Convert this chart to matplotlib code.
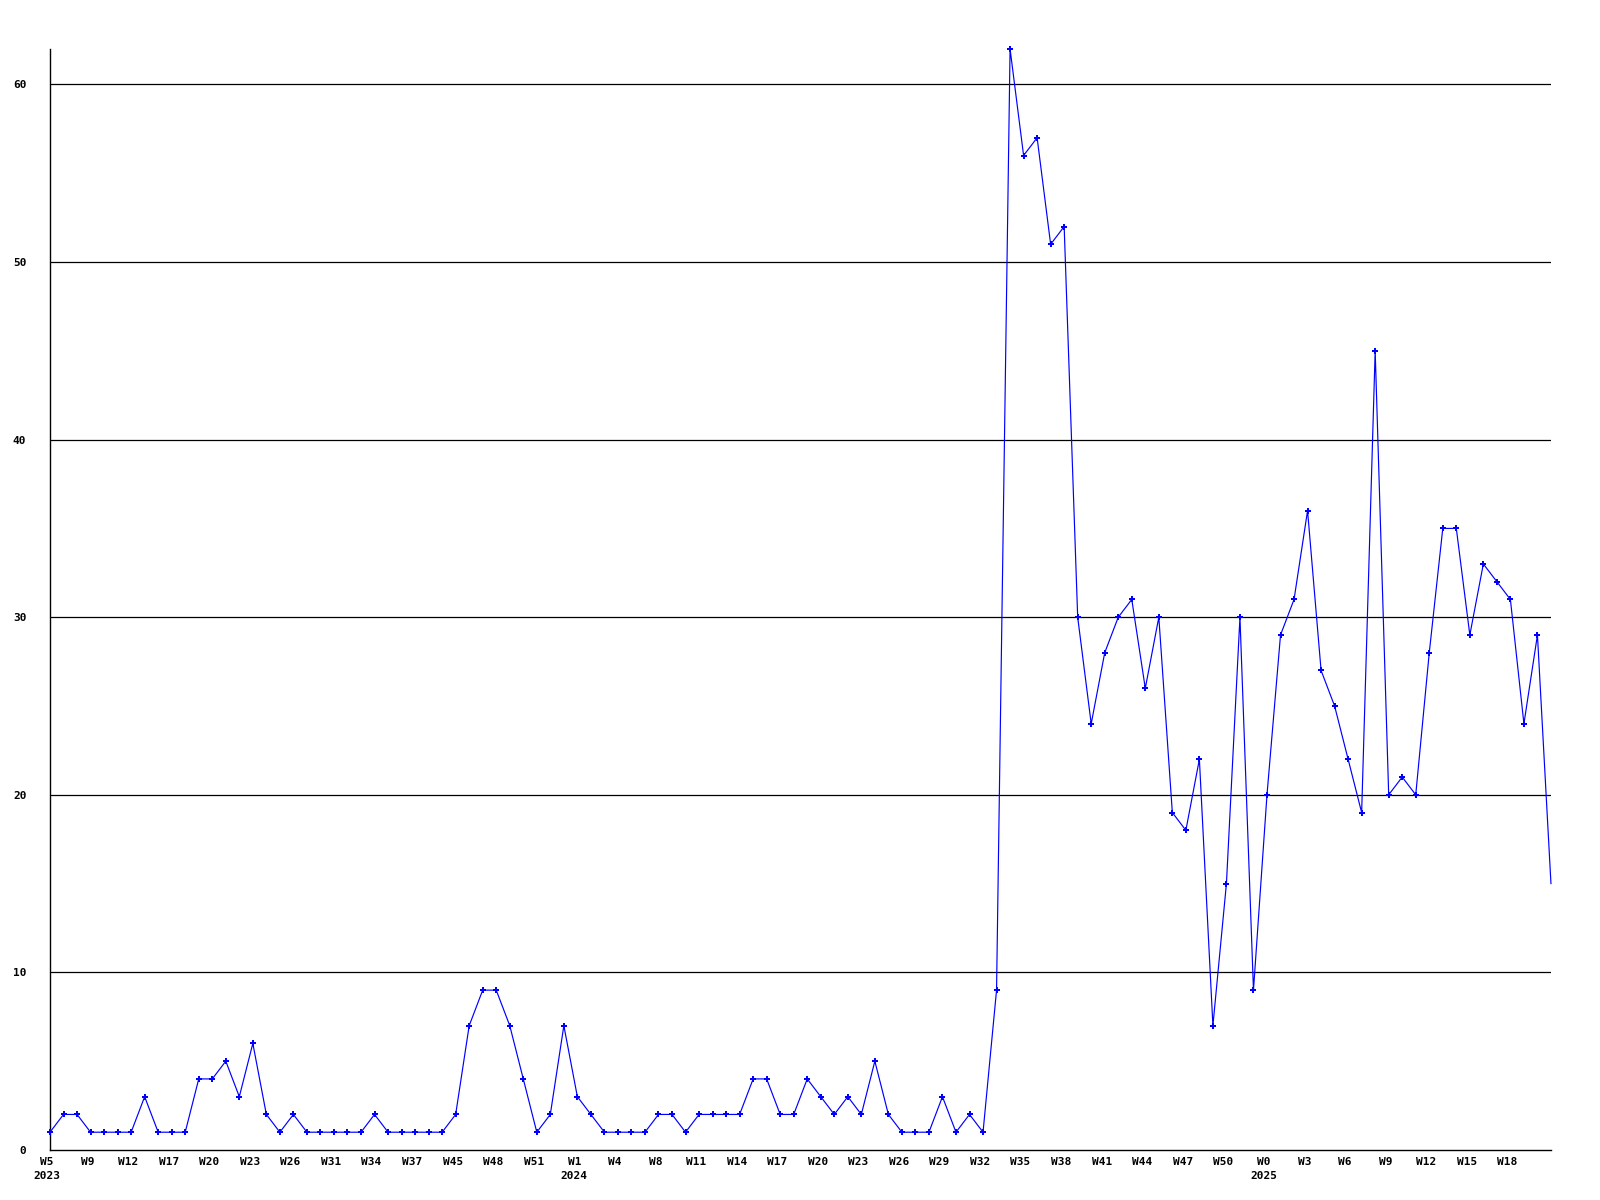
import matplotlib
matplotlib.use("Agg")
import matplotlib.pyplot as plt
from matplotlib.transforms import ScaledTranslation

# weekly counts
values = [1, 2, 2, 1, 1, 1, 1, 3, 1, 1, 1, 4, 4, 5, 3, 6, 2, 1, 2, 1,
          1, 1, 1, 1, 2, 1, 1, 1, 1, 1, 2, 7, 9, 9, 7, 4, 1, 2, 7, 3,
          2, 1, 1, 1, 1, 2, 2, 1, 2, 2, 2, 2, 4, 4, 2, 2, 4, 3, 2, 3,
          2, 5, 2, 1, 1, 1, 3, 1, 2, 1, 9, 62, 56, 57, 51, 52, 30, 24, 28, 30,
          31, 26, 30, 19, 18, 22, 7, 15, 30, 9, 20, 29, 31, 36, 27, 25, 22, 19, 45, 20,
          21, 20, 28, 35, 35, 29, 33, 32, 31, 24, 29, 15]

week_labels = ["W5", "W9", "W12", "W17", "W20", "W23", "W26", "W31", "W34", "W37",
               "W45", "W48", "W51", "W1", "W4", "W8", "W11", "W14", "W17", "W20",
               "W23", "W26", "W29", "W32", "W35", "W38", "W41", "W44", "W47", "W50",
               "W0", "W3", "W6", "W9", "W12", "W15", "W18"]
year_labels = {0: "2023", 13: "2024", 30: "2025"}
label_step = 3

y_ticks = [0, 10, 20, 30, 40, 50, 60]

font = "DejaVu Sans Mono"

fig = plt.figure(figsize=(16, 12), dpi=100)
ax = fig.add_axes([0.03125, 0.0417, 0.9381, 0.9175])

x = list(range(len(values)))
# last point sits on the right edge without a marker
ax.plot(x, values, color="#0000ff", lw=0.85, marker="P", ms=4.5, mew=0,
        markevery=list(range(len(values) - 1)), clip_on=False, zorder=3)

ax.set_xlim(0, len(values) - 1)
ax.set_ylim(0, 62)

# grid lines
for t in y_ticks[1:]:
    ax.axhline(t, color="black", lw=0.9, zorder=1)

ax.set_yticks(y_ticks)
ax.set_yticklabels([str(t) for t in y_ticks], fontfamily=font,
                   fontweight="bold", fontsize=8)
ax.tick_params(axis="y", length=0, pad=17)

xt = [i * label_step for i in range(len(week_labels))]
xl = []
for i, w in enumerate(week_labels):
    if i in year_labels:
        xl.append(w + "\n" + year_labels[i])
    else:
        xl.append(w)
ax.set_xticks(xt)
ax.set_xticklabels(xl, fontfamily=font, fontweight="bold", fontsize=8,
                   linespacing=1.55, va="top")
ax.tick_params(axis="x", length=0, pad=5)
shift = ScaledTranslation(-3 / 100, 0, fig.dpi_scale_trans)
for lab in ax.get_xticklabels():
    lab.set_transform(lab.get_transform() + shift)

for s in ["top", "right"]:
    ax.spines[s].set_visible(False)
for s in ["left", "bottom"]:
    ax.spines[s].set_linewidth(1.0)
    ax.spines[s].set_color("black")

fig.savefig("out.png", dpi=100)
